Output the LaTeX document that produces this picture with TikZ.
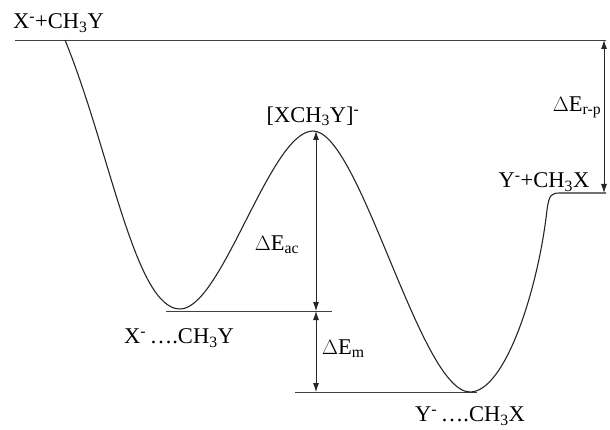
\documentclass[tikz,border=0pt]{standalone}
\usepackage{fontspec}
\setmainfont{Liberation Serif}
\usetikzlibrary{arrows.meta}
\begin{document}
\begin{tikzpicture}[x=1pt,y=-1pt,
  lbl/.style={inner sep=0pt,font=\fontsize{22.5}{26}\selectfont},
  curve/.style={line width=1.1pt,black!85},
  level/.style={line width=0.7pt,black!75},
  dim/.style={line width=0.8pt,black!85,{Latex[length=9pt,width=6pt]}-{Latex[length=9pt,width=6pt]}}]
\useasboundingbox (0,0) rectangle (610,430);
% key points
\coordinate (tl) at (15,40);
\coordinate (tr) at (606,40);
\coordinate (s) at (65,40);
\coordinate (m1) at (180,309);
\coordinate (ts) at (313,131);
\coordinate (m2) at (470,392);
\coordinate (pc) at (560,193);
\coordinate (pr) at (606,193);
\coordinate (l1a) at (166,311);
\coordinate (l1b) at (332,311);
\coordinate (l2a) at (295,392);
\coordinate (l2b) at (477,392);
\coordinate (acT) at (316,131);
\coordinate (acB) at (316,311);
\coordinate (mB) at (316,392);
\coordinate (rpT) at (604,40);
\coordinate (rpB) at (604,193);
% lines
\draw[level] (tl) -- (tr);
\draw[level] (l1a) -- (l1b);
\draw[level] (l2a) -- (l2b);
% energy curve
\draw[curve] (s) .. controls (110,150) and (135,309) .. (m1)
  .. controls (222,309) and (270,131) .. (ts)
  .. controls (360,131) and (420,392) .. (m2)
  .. controls (505,392) and (538,290) .. (547,210)
  .. controls (549,195) and (551,193) .. (pc) -- (pr);
% dimension arrows
\draw[dim] (acB) -- (acT);
\draw[dim] (acB) -- (mB);
\draw[dim] (rpT) -- (rpB);
% labels
\node[lbl,anchor=west] (r) at (13,23) {X\textsuperscript{-}+CH\textsubscript{3}Y};
\node[lbl] (tsl) at (313,116) {[XCH\textsubscript{3}Y]\textsuperscript{-}};
\node[lbl] (eac) at (277,245) {$\Delta$E\textsubscript{ac}};
\node[lbl,anchor=west] (em) at (322,349) {$\Delta$E\textsubscript{m}};
\node[lbl] (erp) at (577,107) {$\Delta$E\textsubscript{r-p}};
\node[lbl] (p) at (544,182) {Y\textsuperscript{-}+CH\textsubscript{3}X};
\node[lbl] (c1) at (179,338) {X\textsuperscript{-}\,\ldots.CH\textsubscript{3}Y};
\node[lbl] (c2) at (470,416) {Y\textsuperscript{-}\,\ldots.CH\textsubscript{3}X};
\end{tikzpicture}
\end{document}
